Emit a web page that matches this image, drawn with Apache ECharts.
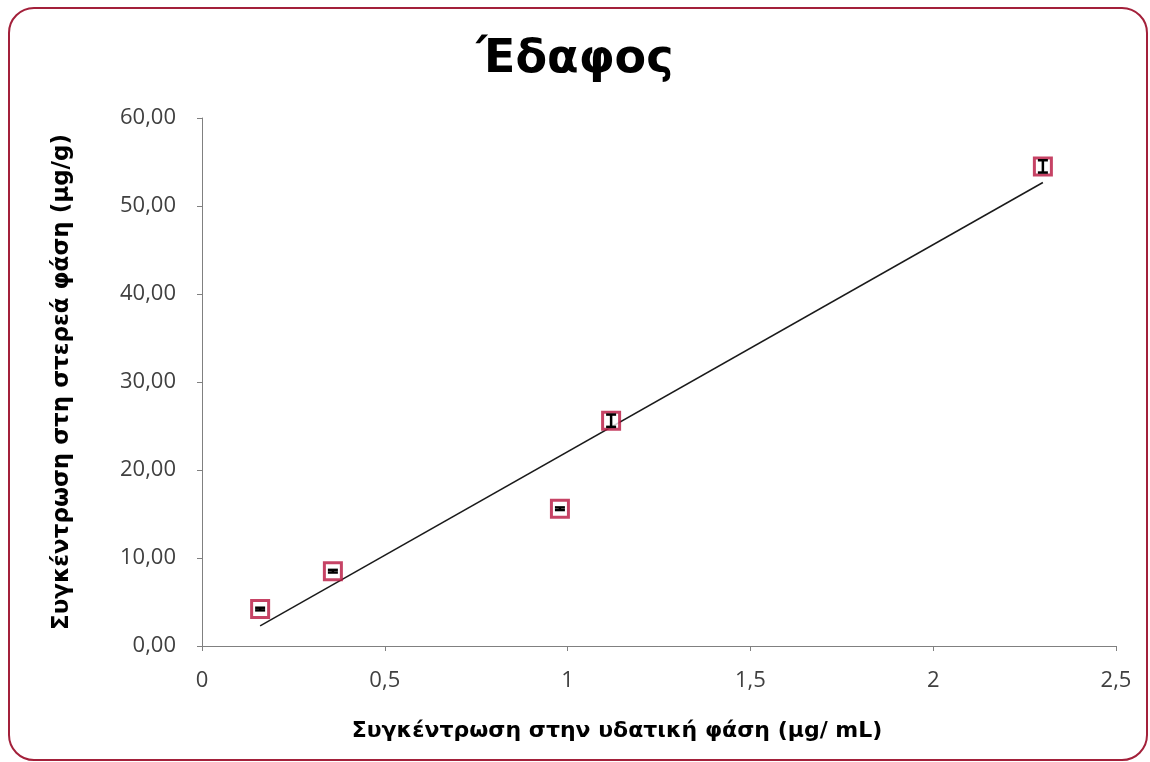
<!DOCTYPE html>
<html>
<head>
<meta charset="utf-8">
<script src="https://cdn.jsdelivr.net/npm/echarts@6/dist/echarts.min.js"></script>
<style>
  html, body { margin: 0; padding: 0; background: #fff; }
  #frame { position: absolute; left: 8px; top: 7px; width: 1140px; height: 754px;
           border: 2px solid #a3203a; border-radius: 26px; box-sizing: border-box; }
  #chart { position: absolute; left: 0; top: 0; width: 1150px; height: 762px; }
</style>
</head>
<body>
<div id="frame"></div>
<div id="chart"></div>
<script>
// aqueous phase concentration (μg/mL)
const aqueous = [0.159, 0.358, 0.979, 1.119, 2.30];
// solid phase concentration (μg/g)
const solid = [4.2, 8.5, 15.6, 25.6, 54.5];
// standard deviation (μg/g)
const solidErr = [0.15, 0.15, 0.15, 0.7, 0.7];
const xTicks = [0, 0.5, 1, 1.5, 2, 2.5];

// linear trendline (least squares)
const n = aqueous.length;
const mx = aqueous.reduce((a, b) => a + b, 0) / n;
const my = solid.reduce((a, b) => a + b, 0) / n;
let sxy = 0, sxx = 0;
aqueous.forEach((x, i) => { sxy += (x - mx) * (solid[i] - my); sxx += (x - mx) ** 2; });
const slope = sxy / sxx, icpt = my - slope * mx;
const xMin = Math.min(...aqueous), xMax = Math.max(...aqueous);
const trend = [[xMin, icpt + slope * xMin], [xMax, icpt + slope * xMax]];

const chart = echarts.init(document.getElementById('chart'));
const labelFont = { color: '#404040', fontSize: 22, fontFamily: 'Open Sans' };
const nameFont = { color: '#000', fontSize: 22, fontWeight: 'bold', fontFamily: 'DejaVu Sans' };

chart.setOption({
  backgroundColor: 'transparent',
  animation: false,
  title: { text: 'Έδαφος', left: 'center', top: 32,
    textStyle: { fontSize: 46, fontWeight: 'bold', fontFamily: 'DejaVu Sans', color: '#000' } },
  grid: { left: 202, right: 34, top: 118, bottom: 116 },
  xAxis: {
    type: 'value', min: 0, max: 2.5, interval: 0.5,
    name: 'Συγκέντρωση στην υδατική φάση (μg/ mL)', nameLocation: 'middle', nameGap: 74,
    nameTextStyle: Object.assign({}, nameFont, { padding: [0, 84, 0, 0] }),
    axisLine: { lineStyle: { color: '#808080', width: 1 } },
    axisTick: { show: true, length: 5, lineStyle: { color: '#808080' } },
    axisLabel: Object.assign({}, labelFont, { margin: 24,
      formatter: v => xTicks.includes(v) ? String(v).replace('.', ',') : '' }),
    splitLine: { show: false }
  },
  yAxis: {
    type: 'value', min: 0, max: 60, interval: 10,
    name: 'Συγκέντρωση στη στερεά φάση (μg/g)', nameLocation: 'middle', nameGap: 128,
    nameTextStyle: Object.assign({}, nameFont, { fontSize: 23 }),
    axisLine: { show: true, lineStyle: { color: '#808080', width: 1 } },
    axisTick: { show: true, length: 5, lineStyle: { color: '#808080' } },
    axisLabel: Object.assign({}, labelFont, { margin: 26,
      formatter: v => v.toFixed(2).replace('.', ',') }),
    splitLine: { show: false }
  },
  series: [
    {
      type: 'line', data: trend, symbol: 'none', silent: true,
      lineStyle: { color: '#1a1a1a', width: 1.5 }, z: 1
    },
    {
      type: 'scatter', data: aqueous.map((x, i) => [x, solid[i]]),
      symbol: 'rect', symbolSize: 17,
      itemStyle: { color: '#fff', borderColor: '#b8143e', borderWidth: 3 }, z: 2
    },
    {
      type: 'custom', z: 3,
      data: aqueous.map((x, i) => [x, solid[i] - solidErr[i], solid[i] + solidErr[i]]),
      renderItem: (params, api) => {
        const lo = api.coord([api.value(0), api.value(1)]);
        const hi = api.coord([api.value(0), api.value(2)]);
        const w = 5;
        const st = { stroke: '#000', lineWidth: 2.5 };
        return { type: 'group', children: [
          { type: 'line', shape: { x1: lo[0], y1: lo[1], x2: hi[0], y2: hi[1] }, style: st },
          { type: 'line', shape: { x1: lo[0] - w, y1: lo[1], x2: lo[0] + w, y2: lo[1] }, style: st },
          { type: 'line', shape: { x1: hi[0] - w, y1: hi[1], x2: hi[0] + w, y2: hi[1] }, style: st }
        ] };
      }
    }
  ]
});
</script>
</body>
</html>
